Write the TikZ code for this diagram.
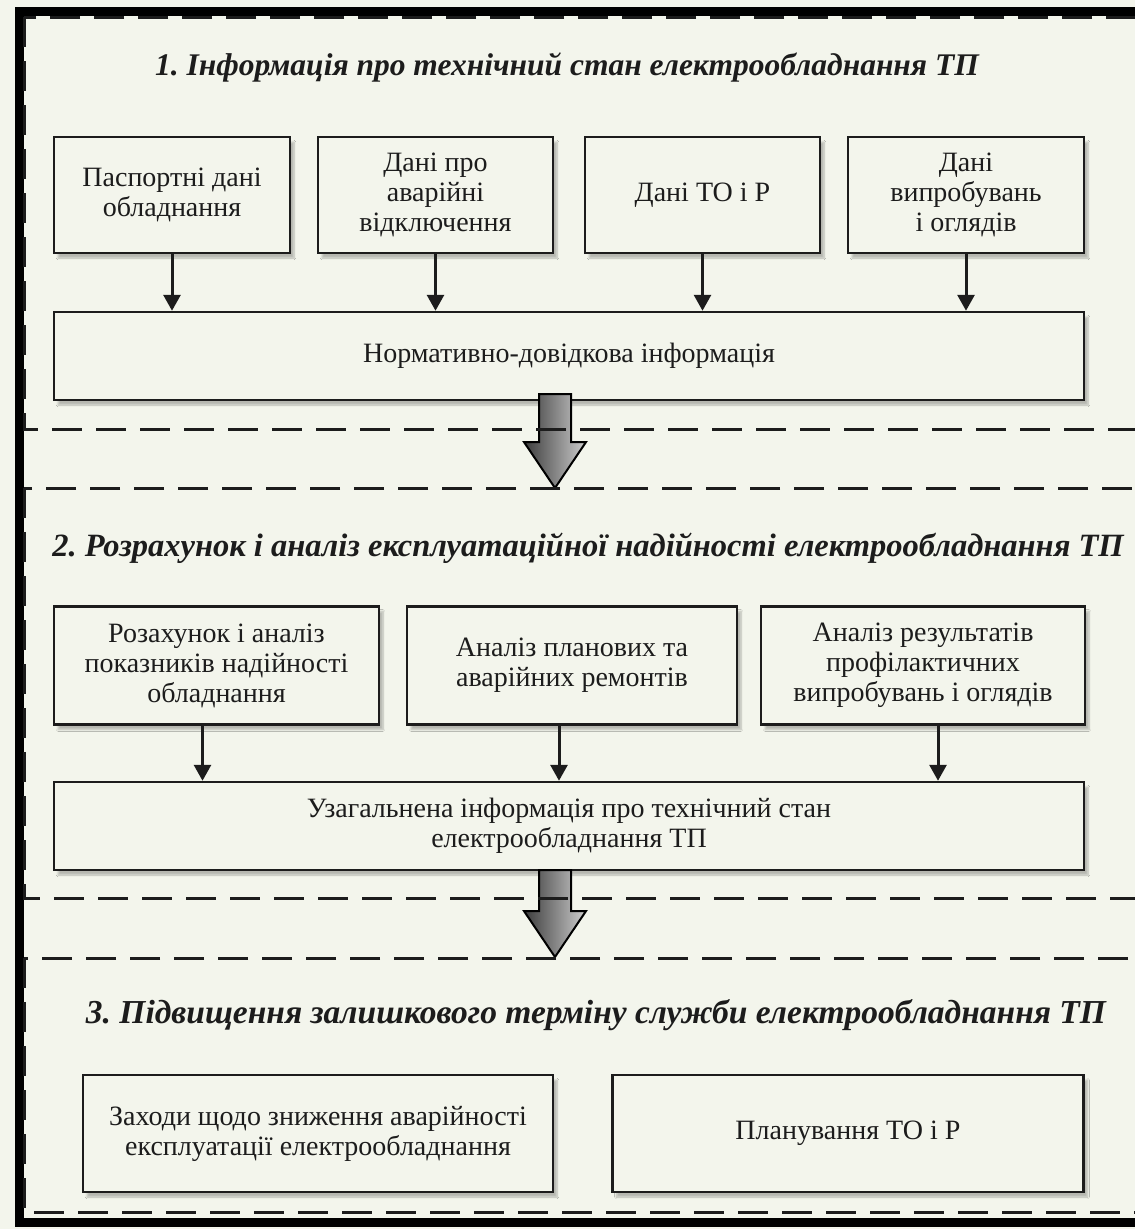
\documentclass[tikz,border=0pt]{standalone}
\usepackage{fontspec}
\setmainfont{Liberation Serif}
\usetikzlibrary{arrows.meta, positioning, shadows.blur}
\definecolor{paper}{RGB}{243,245,236}
\definecolor{ink}{RGB}{28,28,28}
\definecolor{arrowdark}{RGB}{60,60,60}
\definecolor{arrowlight}{RGB}{205,205,205}
\newcommand\blockdown[2]{%
  \draw[block] (#1) -- ++(31,-46) -- ++(-15,0) -- ++(0,-#2) -- ++(-32,0)
    -- ++(0,#2) -- ++(-15,0) -- cycle;}
\frenchspacing
\begin{document}
\begin{tikzpicture}[x=1pt,y=-1pt,
  box/.style={draw=ink,line width=2.5pt,fill=paper,align=center,text=ink,
              font=\fontsize{28}{30}\selectfont,inner sep=0pt,
              blur shadow={shadow xshift=4pt,shadow yshift=-5pt,
                           shadow opacity=25,shadow blur steps=6}},
  title/.style={font=\fontsize{#1}{36}\selectfont\bfseries\itshape,text=ink},
  title/.default=32.5,
  section/.style={draw=ink,line width=3pt,dash pattern=on 30pt off 14pt},
  link/.style={-{Triangle[length=16pt,width=17pt]},line width=3pt,draw=ink},
  block/.style={draw=black,line width=2pt,left color=arrowdark,
                right color=arrowlight,line join=miter}]
  \clip (0,0) rectangle (1135,1229);
  \fill[paper] (0,0) rectangle (1135,1229);
  \draw[line width=9pt] (19,11.5) rectangle (1200,1222);

  \node[title=31.5] (t1) at (567,67) {1. Інформація про технічний стан електрообладнання ТП};
  \node[box,minimum width=236pt,minimum height=116pt] (pd) at (172,195)
    {Паспортні дані\\обладнання};
  \node[box,minimum width=235pt,minimum height=116pt] (av) at (435.5,195)
    {Дані про\\аварійні\\відключення};
  \node[box,minimum width=235pt,minimum height=116pt] (tor) at (702.5,195)
    {Дані ТО і Р};
  \node[box,minimum width=236pt,minimum height=116pt] (vo) at (966,195)
    {Дані\\випробувань\\і оглядів};
  \node[box,minimum width=1030pt,minimum height=88pt] (norm) at (569,356)
    {Нормативно-довідкова інформація};
  \foreach \n in {pd,av,tor,vo}
    \draw[link] (\n) -- (\n |- norm.north);

  \node[title] (t2) at (588,548) {2. Розрахунок і аналіз експлуатаційної надійності електрообладнання ТП};
  \node[box,minimum width=325pt,minimum height=118pt] (ra) at (216.5,665.5)
    {Розахунок і аналіз\\показників надійності\\обладнання};
  \node[box,minimum width=330pt,minimum height=118pt] (pr) at (572,665.5)
    {Аналіз планових та\\аварійних ремонтів};
  \node[box,minimum width=324pt,minimum height=118pt] (rv) at (923,665.5)
    {Аналіз результатів\\профілактичних\\випробувань і оглядів};
  \node[box,minimum width=1030pt,minimum height=88pt] (gen) at (569,826)
    {Узагальнена інформація про технічний стан\\електрообладнання ТП};
  \draw[link] ([xshift=-14pt]ra.south) -- ([xshift=-14pt]ra.south |- gen.north);
  \draw[link] ([xshift=-13pt]pr.south) -- ([xshift=-13pt]pr.south |- gen.north);
  \draw[link] ([xshift=15pt]rv.south) -- ([xshift=15pt]rv.south |- gen.north);

  \node[title=33.5] (t3) at (596,1015) {3. Підвищення залишкового терміну служби електрообладнання ТП};
  \node[box,minimum width=470pt,minimum height=117pt] (zz) at (318,1133.5)
    {Заходи щодо зниження аварійності\\експлуатації електрообладнання};
  \node[box,minimum width=471pt,minimum height=117pt] (pl) at (848,1133.5)
    {Планування ТО і Р};

  \coordinate (tip1) at (555,488);
  \coordinate (tip2) at (555,957);
  \blockdown{tip1}{48}
  \blockdown{tip2}{41}

  \draw[section] (24,17) rectangle (1180,429);
  \draw[section] (24,488) rectangle (1180,898);
  \draw[section] (24,958) rectangle (1180,1212);
\end{tikzpicture}
\end{document}
